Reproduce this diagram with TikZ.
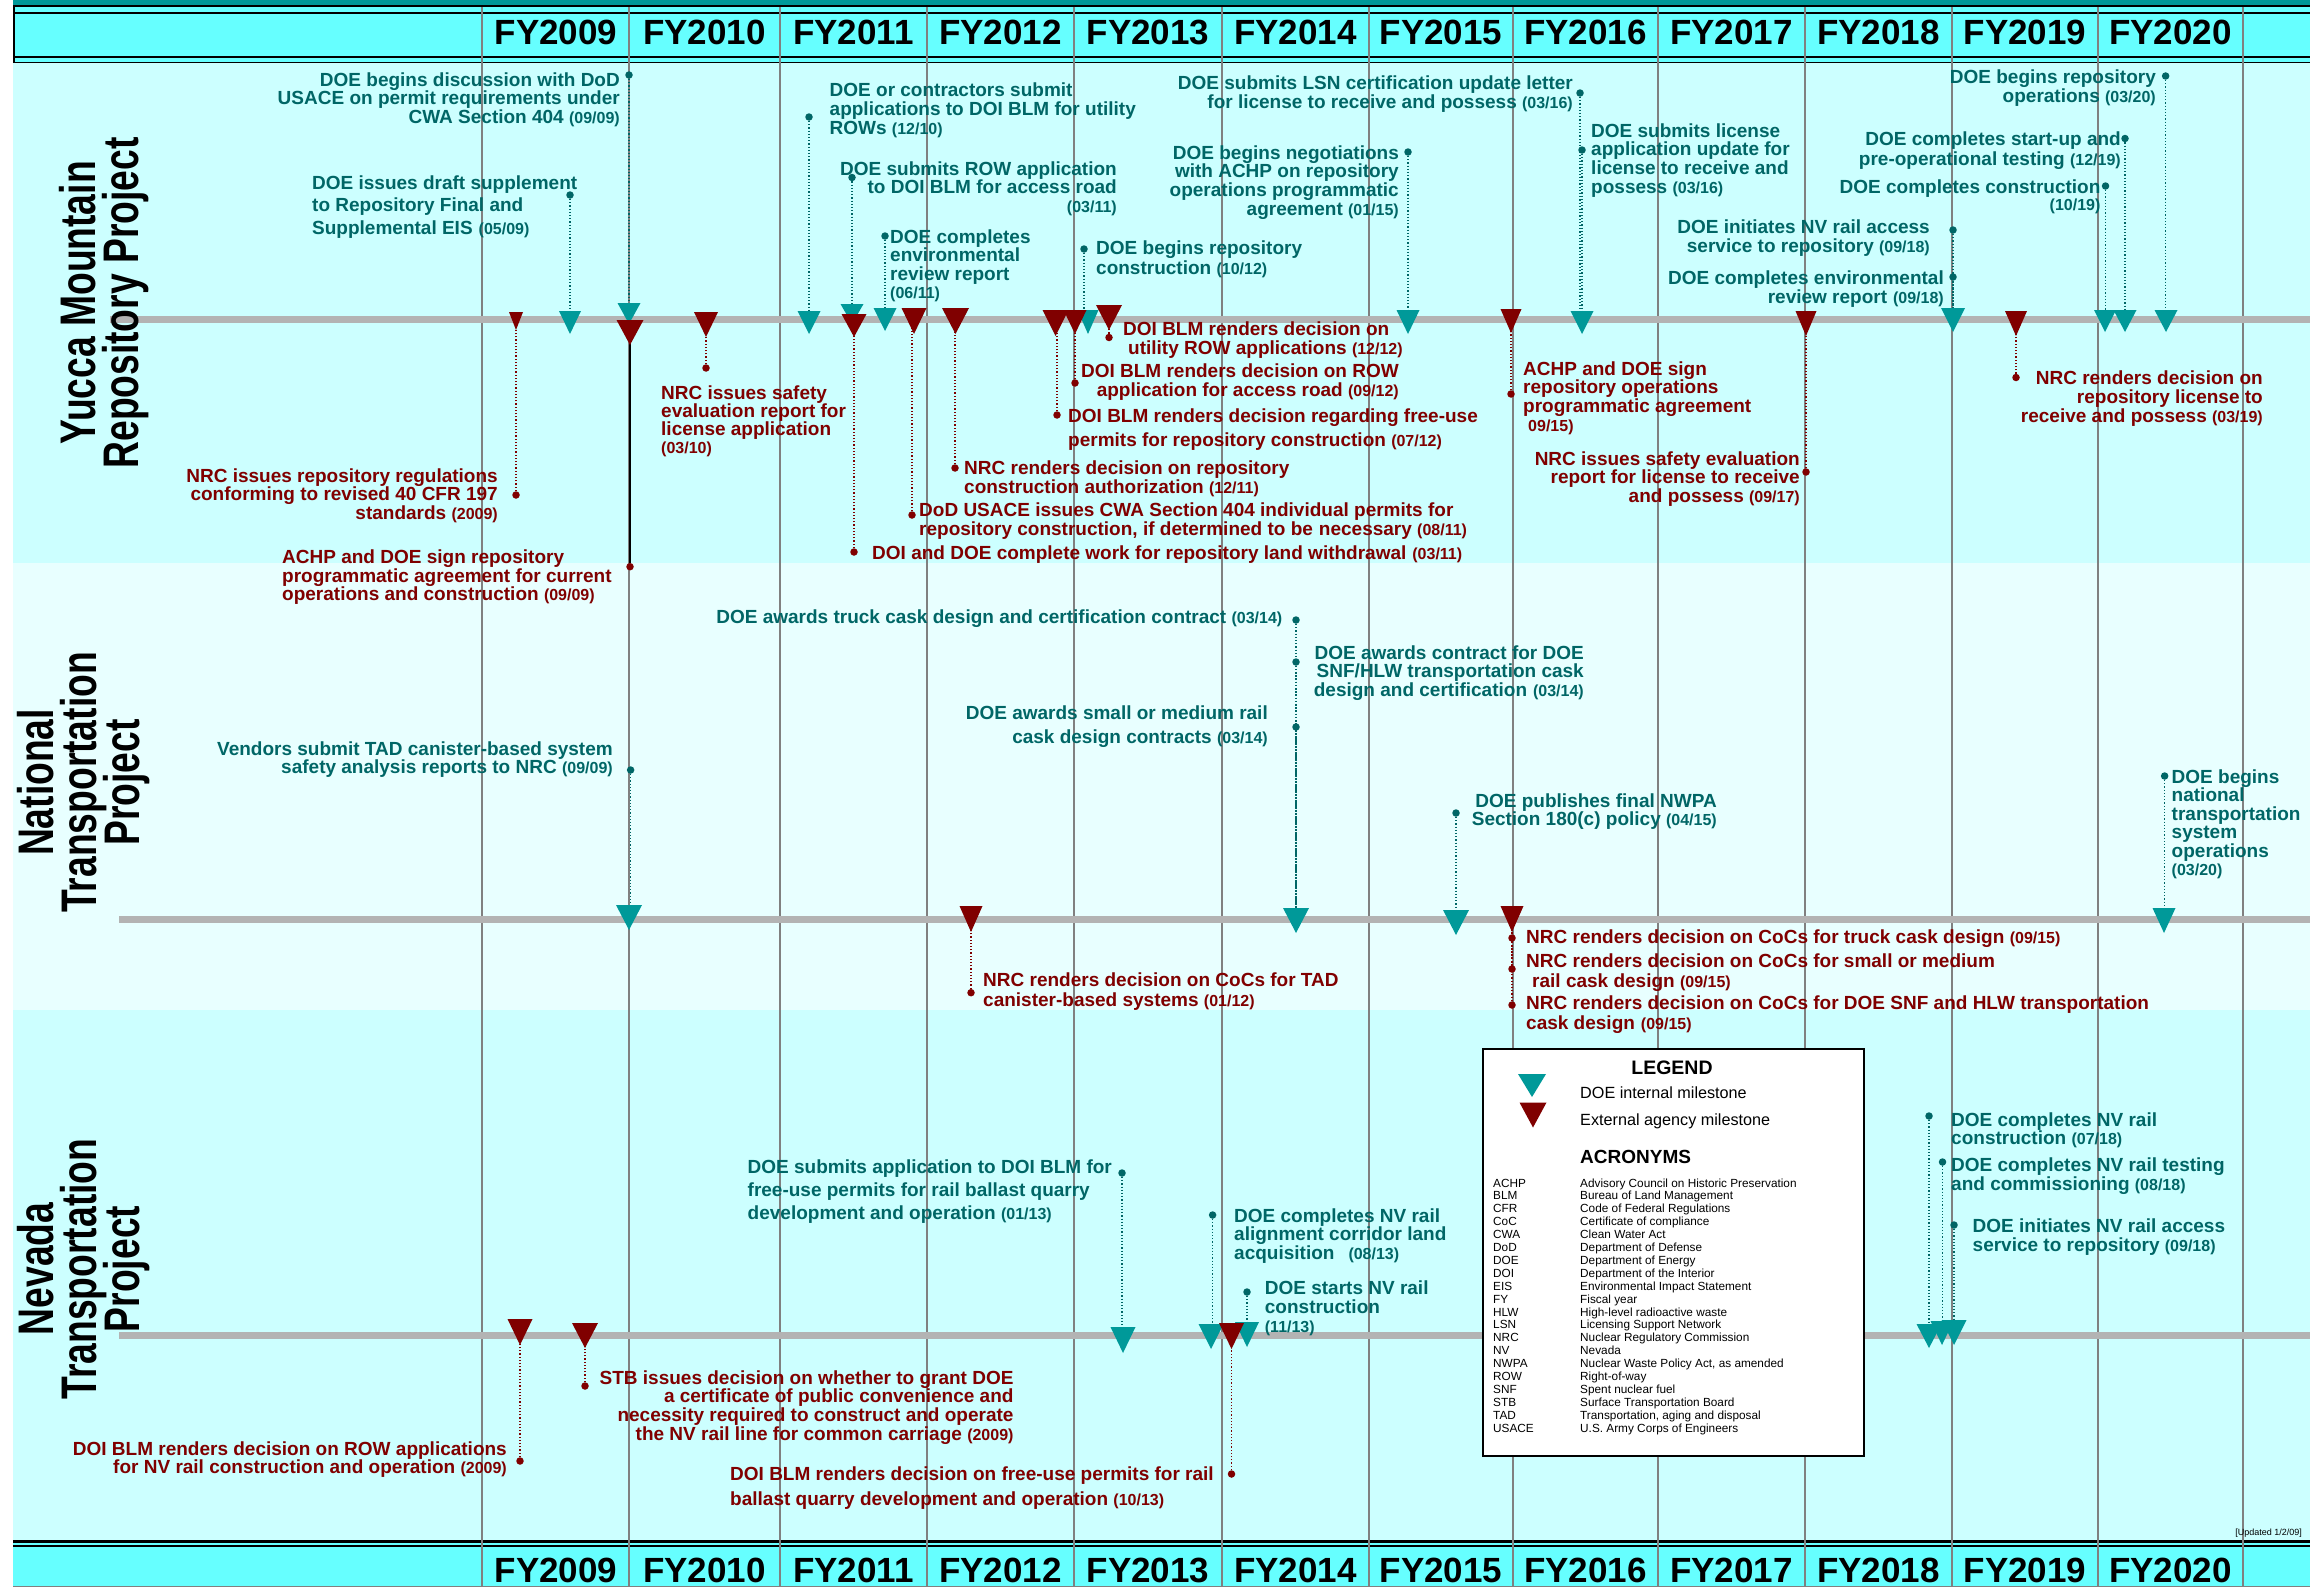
\documentclass[tikz,border=0pt]{standalone}
\usepackage{fontspec}
\setmainfont{Liberation Sans}
\usepackage{graphicx}
\pgfdeclarelayer{back}
\pgfdeclarelayer{conn}
\pgfsetlayers{back,conn,main}
\definecolor{hdr}{RGB}{102,255,255}
\definecolor{hdrdark}{RGB}{0,153,153}
\definecolor{panelA}{RGB}{204,255,255}
\definecolor{panelB}{RGB}{232,255,255}
\definecolor{gridc}{RGB}{128,128,128}
\definecolor{axisc}{RGB}{179,179,179}
\definecolor{doetri}{RGB}{0,153,153}
\definecolor{doetxt}{RGB}{0,102,102}
\definecolor{exttri}{RGB}{128,0,0}
\definecolor{exttxt}{RGB}{128,0,0}
\newcommand\stL[2]{\vtop{\baselineskip=#1pt\lineskiplimit=-\maxdimen\lineskip=0pt\halign{##\hfil\cr#2\crcr}}}
\newcommand\stR[2]{\vtop{\baselineskip=#1pt\lineskiplimit=-\maxdimen\lineskip=0pt\halign{\hfil##\cr#2\crcr}}}
\newcommand\stC[2]{\vtop{\baselineskip=#1pt\lineskiplimit=-\maxdimen\lineskip=0pt\halign{\hfil##\hfil\cr#2\crcr}}}
\newcommand\mdate[1]{{\fontsize{16}{16}\selectfont#1}}
\newcommand\mtri[6]{\coordinate (#1) at (#3,{#4+#6/2});
  \fill[#2] ({#3-#5/2},#4) -- ({#3+#5/2},#4) -- (#3,{#4+#6}) -- cycle;}
\newcommand\mdot[4]{\node[#2] (#1) at (#3,#4) {};}
\newcommand\mlink[3]{\begin{pgfonlayer}{conn}\draw[#1] (#2) -- (#2 |- #3);\end{pgfonlayer}}
\tikzset{
  lbl/.style={inner sep=0pt, font=\fontsize{19}{19}\selectfont\bfseries},
  doel/.style={lbl, text=doetxt},
  extl/.style={lbl, text=exttxt},
  doedot/.style={circle, fill=doetxt, inner sep=0pt, minimum size=7.5pt},
  extdot/.style={circle, fill=exttxt, inner sep=0pt, minimum size=7.5pt},
  doelink/.style={doetxt, line width=1.2pt, dash pattern=on 1.2pt off 2pt},
  extlink/.style={exttxt, line width=1.2pt, dash pattern=on 1.2pt off 2pt},
  solidlink/.style={black, line width=1.6pt},
  doefill/.style={fill=doetri},
  extfill/.style={fill=exttri},
  ptitle/.style={inner sep=0pt, font=\fontsize{50}{43}\selectfont\bfseries, text=black},
  yrlbl/.style={inner sep=0pt, font=\fontsize{35}{35}\selectfont\bfseries, anchor=base},
  gridl/.style={gridc, line width=1.5pt},
  axisl/.style={axisc, line width=7pt},
  lgtxt/.style={inner sep=0pt, font=\fontsize{16.2}{16.2}\selectfont},
  lgbold/.style={inner sep=0pt, font=\fontsize{19.5}{19.5}\selectfont\bfseries},
}
\begin{document}
\begin{tikzpicture}[x=1pt,y=-1pt]
\useasboundingbox (0,0) rectangle (2313,1587);
\begin{pgfonlayer}{back}
\fill[white] (0,0) rectangle (2313,1587);
\fill[panelA] (13,63) rectangle (2310,562.7);
\fill[panelB] (13,562.7) rectangle (2310,1010);
\fill[panelA] (13,1010) rectangle (2310,1540);
% top header
\fill[hdrdark] (13,0) rectangle (2310,5.3);
\fill[hdr] (13,5.3) rectangle (2310,63);
\draw[black,line width=1.3pt] (13,6) -- (2310,6);
\draw[black,line width=1.4pt] (13,13) -- (2310,13);
\draw[black,line width=2pt] (13,57) -- (2310,57);
\draw[black,line width=1.6pt] (13,62.5) -- (2310,62.5);
\draw[black,line width=1.4pt] (14,6) -- (14,63);
% bottom header
\fill[hdr] (13,1540) rectangle (2310,1586);
\draw[black,line width=2.7pt] (13,1541.3) -- (2310,1541.3);
\draw[black,line width=2pt] (13,1546) -- (2310,1546);
\draw[gridc,line width=1pt] (13,1586.5) -- (2310,1586.5);
% year grid
\foreach \x in {482,629,780,927,1074,1222,1369,1513,1658,1805,1952,2098,2243}
  \draw[gridl] (\x,7) -- (\x,1587);
% axes
\draw[axisl] (110,319) -- (2310,319);
\draw[axisl] (119,919) -- (2310,919);
\draw[axisl] (119,1335) -- (2310,1335);
\end{pgfonlayer}

% year labels
\foreach \c/\yr [count=\i] in {556/2009,704.5/2010,853.5/2011,1000.5/2012,1148/2013,1295.5/2014,1441/2015,1585.5/2016,1731.5/2017,1878.5/2018,2025/2019,2170.5/2020}{
  \node[yrlbl] (yt\i) at (\c,44.6) {FY\yr};
  \node[yrlbl] (yb\i) at (\c,1582) {FY\yr};
}

% project titles
\node[ptitle, rotate=90] (tY) at (104,303) {\scalebox{0.745}[1]{\stC{43}{Yucca Mountain\cr Repository Project}}};
\node[ptitle, rotate=90] (tN) at (84,782.5) {\scalebox{0.745}[1]{\stC{43}{National\cr Transportation\cr Project}}};
\node[ptitle, rotate=90] (tV) at (84,1269) {\scalebox{0.745}[1]{\stC{43}{Nevada\cr Transportation\cr Project}}};

% ===== Yucca Mountain triangles =====
\mtri{T1}{doefill}{629}{303}{23}{21}
\mtri{T2}{doefill}{570}{311}{22}{23}
\mtri{T5}{doefill}{809}{311}{23}{23}
\mtri{T6}{doefill}{852}{304}{23}{20}
\mtri{T7}{doefill}{885}{308}{23}{23}
\mtri{T8}{doefill}{1088}{310}{21}{24}
\mtri{T9}{doefill}{1408}{310}{23}{24}
\mtri{T10}{doefill}{1582}{311}{23}{23}
\mtri{T12}{doefill}{1953}{308}{24}{24}
\mtri{T14}{doefill}{2125}{310}{23}{22}
\mtri{T15}{doefill}{2105}{310}{22}{22}
\mtri{T16}{doefill}{2166}{310}{23}{22}
\mtri{T3}{extfill}{516}{312}{14}{18}
\mtri{T4}{extfill}{630}{320}{27}{25}
\mtri{T17}{extfill}{706}{312}{24}{25}
\mtri{T18}{extfill}{854}{314}{25}{23}
\mtri{T19}{extfill}{914}{308}{25}{26}
\mtri{T20}{extfill}{955.5}{308}{27}{26}
\mtri{T21}{extfill}{1055.5}{310}{26}{26}
\mtri{T22}{extfill}{1075}{310}{23}{24}
\mtri{T23}{extfill}{1109}{305}{26}{25}
\mtri{T24}{extfill}{1511}{309}{21}{24}
\mtri{T25}{extfill}{1806}{311}{21}{25}
\mtri{T26}{extfill}{2016}{311}{22}{25}

% dots and links
\mdot{D1}{doedot}{629}{75} \mlink{doelink}{D1}{T1}
\mdot{D2}{doedot}{570}{195} \mlink{doelink}{D2}{T2}
\mdot{D5}{doedot}{809}{117} \mlink{doelink}{D5}{T5}
\mdot{D6}{doedot}{852}{177.5} \mlink{doelink}{D6}{T6}
\mdot{D7}{doedot}{885}{236} \mlink{doelink}{D7}{T7}
\mdot{D8}{doedot}{1084}{249} \mlink{doelink}{D8}{T8}
\mdot{D9}{doedot}{1408}{152} \mlink{doelink}{D9}{T9}
\mdot{D10}{doedot}{1580}{93} \mlink{doelink}{D10}{T10}
\mdot{D11}{doedot}{1582}{150} \mlink{doelink}{D11}{T10}
\mdot{D12}{doedot}{1953}{230} \mlink{doelink}{D12}{T12}
\mdot{D13}{doedot}{1953}{277} \mlink{doelink}{D13}{T12}
\mdot{D14}{doedot}{2125}{138.5} \mlink{doelink}{D14}{T14}
\mdot{D15}{doedot}{2105.5}{186} \mlink{doelink}{D15}{T15}
\mdot{D16}{doedot}{2165.6}{76} \mlink{doelink}{D16}{T16}
\mdot{D3}{extdot}{516}{495} \mlink{extlink}{D3}{T3}
\mdot{D4}{extdot}{630}{566.7} \mlink{solidlink}{D4}{T4}
\mdot{D17}{extdot}{706}{368} \mlink{extlink}{D17}{T17}
\mdot{D18}{extdot}{854}{552} \mlink{extlink}{D18}{T18}
\mdot{D19}{extdot}{912}{515} \mlink{extlink}{D19}{T19}
\mdot{D20}{extdot}{955}{468} \mlink{extlink}{D20}{T20}
\mdot{D21}{extdot}{1057}{415} \mlink{extlink}{D21}{T21}
\mdot{D22}{extdot}{1075}{383} \mlink{extlink}{D22}{T22}
\mdot{D23}{extdot}{1109}{337.5} \mlink{extlink}{D23}{T23}
\mdot{D24}{extdot}{1511}{394} \mlink{extlink}{D24}{T24}
\mdot{D25}{extdot}{1806}{472} \mlink{extlink}{D25}{T25}
\mdot{D26}{extdot}{2016}{377.5} \mlink{extlink}{D26}{T26}

% labels Yucca
\node[doel, anchor=base east] (Y1) at (620,86) {\stR{18.5}{DOE begins discussion with DoD\cr USACE on permit requirements under\cr CWA Section 404 \mdate{(09/09)}}};
\node[doel, anchor=base west] (Y2) at (312,189) {\stL{22.7}{DOE issues draft supplement\cr to Repository Final and\cr Supplemental EIS\hspace{6pt}\mdate{(05/09)}}};
\node[doel, anchor=base west] (Y5) at (829.5,96) {\stL{19}{DOE or contractors submit\cr applications to DOI BLM for utility\cr ROWs \mdate{(12/10)}}};
\node[doel, anchor=base east] (Y6) at (1117,175) {\stR{18.5}{DOE submits ROW application\cr to DOI BLM for access road\cr \mdate{(03/11)}}};
\node[doel, anchor=base west] (Y7) at (890,243) {\stL{18.5}{DOE completes\cr environmental\cr review report\cr \mdate{(06/11)}}};
\node[doel, anchor=base west] (Y8) at (1096,254.5) {\stL{19.5}{DOE begins repository\cr construction \mdate{(10/12)}}};
\node[doel, anchor=base east] (Y9) at (1399,159) {\stR{18.7}{DOE begins negotiations\cr with ACHP on repository\cr operations programmatic\cr agreement \mdate{(01/15)}}};
\node[doel, anchor=base east] (Y10) at (1573,89) {\stR{19}{DOE submits LSN certification update letter\cr for license to receive and possess \mdate{(03/16)}}};
\node[doel, anchor=base west] (Y11) at (1591,137) {\stL{18.7}{DOE submits license\cr application update for\cr license to receive and\cr possess \mdate{(03/16)}}};
\node[doel, anchor=base east] (Y12) at (1930,233) {\stR{19}{DOE initiates NV rail access\cr service to repository \mdate{(09/18)}}};
\node[doel, anchor=base east] (Y13) at (1944,284.5) {\stR{19}{DOE completes environmental\cr review report\hspace{6pt}\mdate{(09/18)}}};
\node[doel, anchor=base east] (Y14) at (2121,145.5) {\stR{19.5}{DOE completes start-up and\cr pre-operational testing \mdate{(12/19)}}};
\node[doel, anchor=base east] (Y15) at (2100.6,193) {\stR{17.5}{DOE completes construction\cr \mdate{(10/19)}}};
\node[doel, anchor=base east] (Y16) at (2156,83) {\stR{20}{DOE begins repository\cr operations \mdate{(03/20)}}};
\node[extl, anchor=base east] (Y3) at (498,482) {\stR{18.7}{NRC issues repository regulations\cr conforming to revised 40 CFR 197\cr standards \mdate{(2009)}}};
\node[extl, anchor=base west] (Y4) at (282,563.7) {\stL{18.3}{ACHP and DOE sign repository\cr programmatic agreement for current\cr operations and construction \mdate{(09/09)}}};
\node[extl, anchor=base west] (Y17) at (661,399) {\stL{18}{NRC issues safety\cr evaluation report for\cr license application\cr \mdate{(03/10)}}};
\node[extl, anchor=base west] (Y18) at (872,559.7) {\stL{19}{DOI and DOE complete work for repository land withdrawal\hspace{6pt}\mdate{(03/11)}}};
\node[extl, anchor=base west] (Y19) at (919,516) {\stL{19}{DoD USACE issues CWA Section 404 individual permits for\cr repository construction, if determined to be\hspace{6pt}necessary \mdate{(08/11)}}};
\node[extl, anchor=base west] (Y20) at (964,474) {\stL{19}{NRC renders decision on repository\cr construction authorization \mdate{(12/11)}}};
\node[extl, anchor=base west] (Y21) at (1068,422) {\stL{24}{DOI BLM renders decision regarding free-use\cr permits for repository construction \mdate{(07/12)}}};
\node[extl, anchor=base east] (Y22) at (1399,377) {\stR{19}{DOI BLM renders decision on ROW\cr application for access road \mdate{(09/12)}}};
\node[extl, anchor=base west] (Y23) at (1123,335.5) {\stL{19}{DOI BLM renders decision on\cr \hspace{5pt}utility ROW applications \mdate{(12/12)}}};
\node[extl, anchor=base west] (Y24) at (1523,375) {\stL{18.7}{ACHP and DOE sign\cr repository operations\cr programmatic agreement\cr \hspace{5pt}\mdate{09/15)}}};
\node[extl, anchor=base east] (Y25) at (1800,465) {\stR{18.5}{NRC issues safety evaluation\cr report for license to receive\cr and possess \mdate{(09/17)}}};
\node[extl, anchor=base east] (Y26) at (2263,384.5) {\stR{19}{NRC renders decision on\cr repository license to\cr receive and possess \mdate{(03/19)}}};

% ===== National =====
\mtri{N1t}{doefill}{1296}{908}{26}{25}
\mtri{N4t}{doefill}{1456}{910}{26}{25}
\mtri{N5t}{doefill}{2164}{908}{23}{25}
\mtri{N6t}{doefill}{629}{905}{26}{25}
\mtri{N7t}{extfill}{971}{906}{23}{26}
\mtri{N8t}{extfill}{1512}{906}{23}{26}
\mdot{N1d}{doedot}{1296}{620} \mlink{doelink}{N1d}{N1t}
\mdot{N2d}{doedot}{1296}{662} \mlink{doelink}{N2d}{N1t}
\mdot{N3d}{doedot}{1296}{727} \mlink{doelink}{N3d}{N1t}
\mdot{N4d}{doedot}{1456}{813} \mlink{doelink}{N4d}{N4t}
\mdot{N5d}{doedot}{2164.6}{776} \mlink{doelink}{N5d}{N5t}
\mdot{N6d}{doedot}{630.6}{770} \mlink{doelink}{N6d}{N6t}
\mdot{N7d}{extdot}{971}{992.7} \mlink{extlink}{N7d}{N7t}
\mdot{N8d}{extdot}{1512}{938} \mlink{extlink}{N8d}{N8t}
\mdot{N9d}{extdot}{1512}{969} \mlink{extlink}{N9d}{N8t}
\mdot{N10d}{extdot}{1512}{1005} \mlink{extlink}{N10d}{N8t}
\node[doel, anchor=base east] (N1) at (1282.5,623) {\stR{19}{DOE awards truck cask design and certification contract \mdate{(03/14)}}};
\node[doel, anchor=base east] (N2) at (1584,659.7) {\stR{18.2}{DOE awards contract for DOE\cr SNF/HLW transportation cask\cr design and certification\hspace{6pt}\mdate{(03/14)}}};
\node[doel, anchor=base east] (N3) at (1268,719.7) {\stR{23.3}{DOE awards small or medium rail\cr cask design contracts \mdate{(03/14)}}};
\node[doel, anchor=base east] (N4) at (1717,807.7) {\stR{17.7}{DOE publishes final NWPA\cr Section 180(c) policy \mdate{(04/15)}}};
\node[doel, anchor=base west] (N5) at (2171.5,783) {\stL{18.5}{DOE begins\cr national\cr transportation\cr system\cr operations\cr \mdate{(03/20)}}};
\node[doel, anchor=base east] (N6) at (613,755) {\stR{18}{Vendors submit TAD canister-based system\cr safety analysis reports to NRC \mdate{(09/09)}}};
\node[extl, anchor=base west] (N7) at (983,986) {\stL{20}{NRC renders decision on CoCs for TAD\cr canister-based systems \mdate{(01/12)}}};
\node[extl, anchor=base west] (N8) at (1526,943.7) {\stL{19}{NRC renders decision on CoCs for truck cask design \mdate{(09/15)}}};
\node[extl, anchor=base west] (N9) at (1526,967.7) {\stL{19.3}{NRC renders decision on CoCs for small or medium\cr \hspace{6pt}rail cask design \mdate{(09/15)}}};
\node[extl, anchor=base west] (N10) at (1526,1009.7) {\stL{19.7}{NRC renders decision on CoCs for DOE SNF and HLW transportation\cr cask design\hspace{6pt}\mdate{(09/15)}}};

% ===== Legend =====
\node[draw=black, line width=2pt, fill=white, minimum width=381pt, minimum height=406.7pt, anchor=north west, inner sep=0pt] (legend) at (1481.5,1048) {};

% ===== Nevada =====
\mtri{V3t}{doefill}{1123}{1327}{25}{26}
\mtri{V4t}{doefill}{1211}{1324}{25}{25}
\mtri{V6t}{doefill}{1247}{1322}{24}{25}
\mtri{V7t}{doefill}{1929}{1324}{25}{24}
\mtri{V8t}{doefill}{1942}{1321}{23}{24}
\mtri{V9t}{doefill}{1954}{1320}{25}{25}
\mtri{V1t}{extfill}{520}{1319}{25}{26}
\mtri{V2t}{extfill}{585}{1323}{26}{25}
\mtri{V5t}{extfill}{1231.5}{1323}{25}{26}
\mdot{V1d}{extdot}{520}{1461} \mlink{extlink}{V1d}{V1t}
\mdot{V2d}{extdot}{585}{1386} \mlink{extlink}{V2d}{V2t}
\mdot{V3d}{doedot}{1122}{1173} \mlink{doelink}{V3d}{V3t}
\mdot{V4d}{doedot}{1212.6}{1215} \mlink{doelink}{V4d}{V4t}
\mdot{V5d}{extdot}{1231.5}{1474} \mlink{extlink}{V5d}{V5t}
\mdot{V6d}{doedot}{1247}{1292} \mlink{doelink}{V6d}{V6t}
\mdot{V7d}{doedot}{1929}{1116} \mlink{doelink}{V7d}{V7t}
\mdot{V8d}{doedot}{1942.5}{1162} \mlink{doelink}{V8d}{V8t}
\mdot{V9d}{doedot}{1954}{1225} \mlink{doelink}{V9d}{V9t}
\node[extl, anchor=base east] (V1) at (507,1455) {\stR{18}{DOI BLM renders decision on ROW applications\cr for NV rail construction and operation \mdate{(2009)}}};
\node[extl, anchor=base east] (V2) at (1013.7,1384) {\stR{18.7}{STB issues decision on whether to grant DOE\cr a certificate of public convenience and\cr necessity required to construct and operate\cr the NV rail line for common carriage \mdate{(2009)}}};
\node[doel, anchor=base west] (V3) at (747.5,1173) {\stL{23}{DOE submits application to DOI BLM for\cr free-use permits for rail ballast quarry\cr development and operation \mdate{(01/13)}}};
\node[doel, anchor=base west] (V4) at (1234,1222) {\stL{18.7}{DOE completes NV rail\cr alignment corridor land\cr acquisition\hspace{14pt}\mdate{(08/13)}}};
\node[extl, anchor=base west] (V5) at (730,1480) {\stL{25}{DOI BLM renders decision on free-use permits for rail\cr ballast quarry development and operation \mdate{(10/13)}}};
\node[doel, anchor=base west] (V6) at (1264.7,1294.6) {\stL{19}{DOE starts NV rail\cr construction\cr \mdate{(11/13)}}};
\node[doel, anchor=base west] (V7) at (1951,1126) {\stL{18.5}{DOE completes NV rail\cr construction \mdate{(07/18)}}};
\node[doel, anchor=base west] (V8) at (1951,1171) {\stL{19}{DOE completes NV rail testing\cr and commissioning \mdate{(08/18)}}};
\node[doel, anchor=base west] (V9) at (1972.5,1232) {\stL{19}{DOE initiates NV rail access\cr service to repository \mdate{(09/18)}}};

% legend contents
\mtri{lgA}{doefill}{1532}{1074}{28}{23}
\mtri{lgB}{extfill}{1533}{1102.5}{27}{25}
\node[lgbold, anchor=base] (lgT) at (1672,1074) {LEGEND};
\node[lgtxt, anchor=base west] (lgD) at (1580,1098) {DOE internal milestone};
\node[lgtxt, anchor=base west] (lgE) at (1580,1125) {External agency milestone};
\node[lgbold, anchor=base west, font=\fontsize{19}{19}\selectfont\bfseries] (lgAc) at (1580,1163) {ACRONYMS};
\node[inner sep=0pt, font=\fontsize{11.8}{12.9}\selectfont, anchor=base west] (lgL) at (1493,1187) {\vtop{\baselineskip=12.9pt\lineskiplimit=-\maxdimen\lineskip=0pt\halign{\hbox to 87pt{#\hfil}&#\hfil\cr
ACHP&Advisory Council on Historic Preservation\cr
BLM&Bureau of Land Management\cr
CFR&Code of Federal Regulations\cr
CoC&Certificate of compliance\cr
CWA&Clean Water Act\cr
DoD&Department of Defense\cr
DOE&Department of Energy\cr
DOI&Department of the Interior\cr
EIS&Environmental Impact Statement\cr
FY&Fiscal year\cr
HLW&High-level radioactive waste\cr
LSN&Licensing Support Network\cr
NRC&Nuclear Regulatory Commission\cr
NV&Nevada\cr
NWPA&Nuclear Waste Policy Act, as amended\cr
ROW&Right-of-way\cr
SNF&Spent nuclear fuel\cr
STB&Surface Transportation Board\cr
TAD&Transportation, aging and disposal\cr
USACE&U.S. Army Corps of Engineers\cr}}};
\node[inner sep=0pt, font=\fontsize{9}{9}\selectfont, anchor=base east] (upd) at (2302,1535) {[Updated 1/2/09]};
\end{tikzpicture}
\end{document}
